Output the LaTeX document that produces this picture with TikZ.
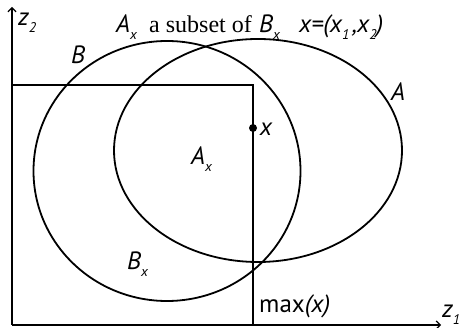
\documentclass[tikz,border=0pt]{standalone}
\usepackage{fontspec}
\setmainfont{PT Sans}
\newfontfamily\serifrm{Liberation Serif}
\usetikzlibrary{arrows.meta}
\newcommand\lowsub[1]{\raisebox{-0.5ex}{\fontsize{14}{14}\selectfont #1}}
\tikzset{
  curve/.style={line width=1.8pt, black},
  axis/.style={line width=1.8pt, -{Straight Barb[length=4pt,width=8pt,line width=1.2pt]}},
  lbl/.style={inner sep=0pt, font=\fontsize{25}{28}\selectfont\itshape},
  serlbl/.style={inner sep=0pt, font=\fontsize{24}{28}\selectfont\serifrm},
}
\begin{document}
\begin{tikzpicture}[x=1pt,y=-1pt]
\useasboundingbox (0,0) rectangle (463,328);
% axes
\coordinate (O) at (12,325);
\coordinate (ytop) at (12,7);
\coordinate (xend) at (441,325);
\draw[axis] (O) -- (ytop);
\draw[axis] (O) -- (xend);
% max rectangle lines
\coordinate (tl) at (12,85);
\coordinate (tr) at (253,85);
\coordinate (br) at (253,325);
\draw[curve] (tl) -- (tr) -- (br);
% ellipses
\draw[curve] (167,171) ellipse [x radius=133.5, y radius=130];
\draw[curve] (258,150.5) ellipse [x radius=144, y radius=111.5];
% point x
\fill (253,128) circle [radius=4];
\node[lbl] (xl) at (266,129) {x};
% labels
\node[lbl] (Bl) at (78,55) {B};
\node[lbl] (Al) at (398,92) {A};
\node[lbl, anchor=base west] (Axl) at (191,165) {A\lowsub{x}};
\node[lbl, anchor=base west] (Bxl) at (127,270) {B\lowsub{x}};
\node[lbl, anchor=base west] (z2) at (18,26) {z\lowsub{2}};
\node[lbl, anchor=base west] (z1) at (442,318) {z\lowsub{1}};
\node[lbl, anchor=base west] (mx) at (259,313) {\upshape max\itshape(x)};
% title
\node[lbl, anchor=base west] (t1) at (116,33) {A\lowsub{x}};
\node[serlbl, anchor=base west] (t2) at (149,33) {a subset of};
\node[lbl, anchor=base west] (t3) at (259,33) {B\lowsub{x}};
\node[lbl, anchor=base west] (t4) at (299,33) {x=(x\lowsub{1}\hspace{3pt},x\lowsub{2})};
\end{tikzpicture}
\end{document}
